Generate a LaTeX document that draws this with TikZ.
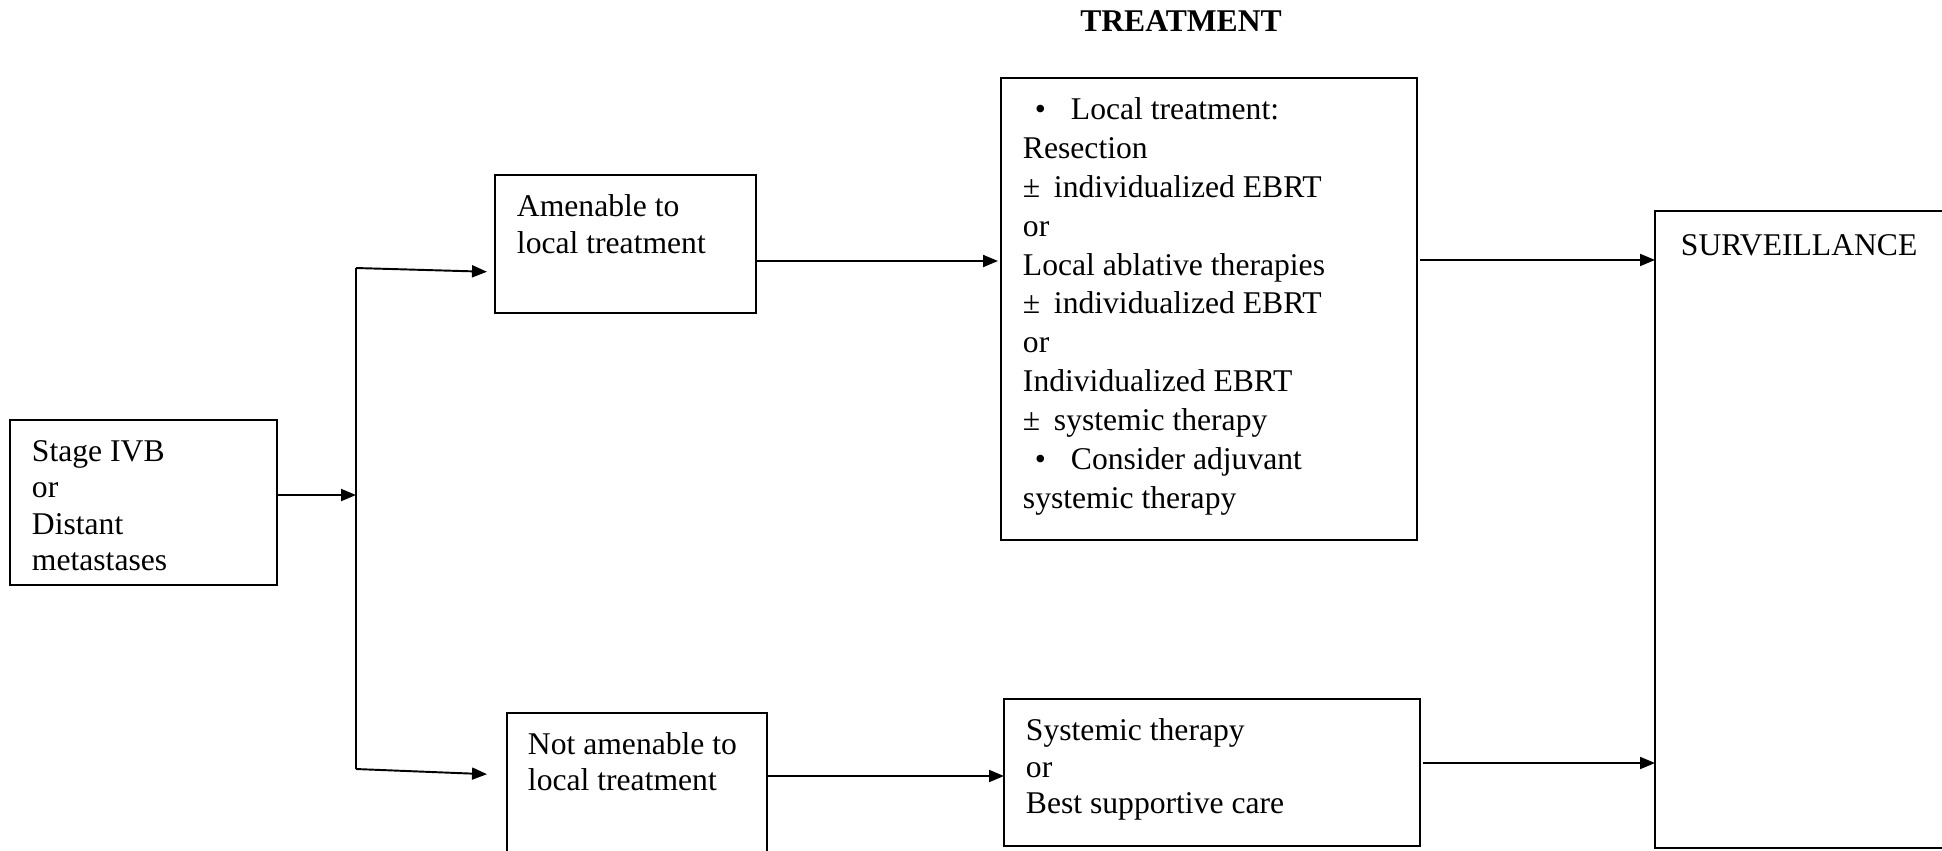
\documentclass[tikz,border=0pt]{standalone}
\usepackage{fontspec}
\setmainfont{Liberation Serif}
\usetikzlibrary{arrows.meta}

\begin{document}
\begin{tikzpicture}[x=0.02cm, y=-0.02cm, line width=1.1pt, line join=miter,
	font=\fontsize{18}{20.5}\selectfont,
	box/.style={draw, anchor=north west, inner sep=0pt, outer sep=0pt},
	txt/.style={anchor=base west, align=left, inner sep=0pt},
	arr/.style={-{Triangle[length=0.3cm, width=0.24cm]}}]
	\def\bul{\makebox[0.96cm][l]{\hspace*{0.24cm}•}}
	\def\pmx{\makebox[0.62cm][l]{±}}
	\useasboundingbox (0,0) rectangle (1942,850);
	\clip (0,0) rectangle (1942,850);
	% boxes
	\node[box, minimum width=5.34cm, minimum height=3.3cm] (stage) at (10,420) {};
	\node[box, minimum width=5.22cm, minimum height=2.76cm] (amen) at (495,175) {};
	\node[box, minimum width=5.2cm, minimum height=3.2cm] (notamen) at (507,713) {};
	\node[box, minimum width=8.32cm, minimum height=9.24cm] (treat) at (1001,78) {};
	\node[box, minimum width=8.32cm, minimum height=2.94cm] (syst) at (1004,699) {};
	\node[box, minimum width=6.4cm, minimum height=12.74cm] (surv) at (1655,211) {};
	% texts (anchored at the baseline of the last line)
	\node[font=\fontsize{18}{20.5}\selectfont\bfseries, anchor=base] (title) at (1181,31) {TREATMENT};
	\node[txt] (stagetxt) at (31,570) {Stage IVB\\or\\Distant\\metastases};
	\node[txt] (amentxt) at (516,253) {Amenable to\\local treatment};
	\node[txt] (notamentxt) at (527,790) {Not amenable to\\local treatment};
	\node[txt, font=\fontsize{18}{22.1}\selectfont] (treattxt) at (1022,508) {\bul Local treatment:\\Resection\\\pmx individualized EBRT\\or\\Local ablative therapies\\\pmx individualized EBRT\\or\\Individualized EBRT\\\pmx systemic therapy\\\bul Consider adjuvant\\systemic therapy};
	\node[txt] (systtxt) at (1025,813) {Systemic therapy\\or\\Best supportive care};
	\node[txt] (survtxt) at (1680,255) {SURVEILLANCE};
	% connectors
	\coordinate (ttop) at (356,268);
	\coordinate (tbot) at (356,769);
	\coordinate (split) at (356,495);
	\draw (ttop) -- (tbot);
	\draw[arr] (stage.east |- split) -- (split);
	\draw[arr, shorten >=0.16cm] (ttop) -- ([yshift=-0.56cm]amen.west);
	\draw[arr, shorten >=0.4cm] (tbot) -- ([yshift=0.36cm]notamen.west);
	\draw[arr, shorten >=0.06cm] ([yshift=-0.34cm]amen.east) coordinate (a1) -- (a1 -| treat.west);
	\draw[arr, shorten <=0.06cm] ([yshift=0.98cm]treat.east) coordinate (a2) -- (a2 -| surv.west);
	\draw[arr] ([yshift=0.34cm]notamen.east) coordinate (a3) -- (a3 -| syst.west);
	\draw[arr, shorten <=0.06cm] ([yshift=0.19cm]syst.east) coordinate (a4) -- (a4 -| surv.west);
\end{tikzpicture}
\end{document}
